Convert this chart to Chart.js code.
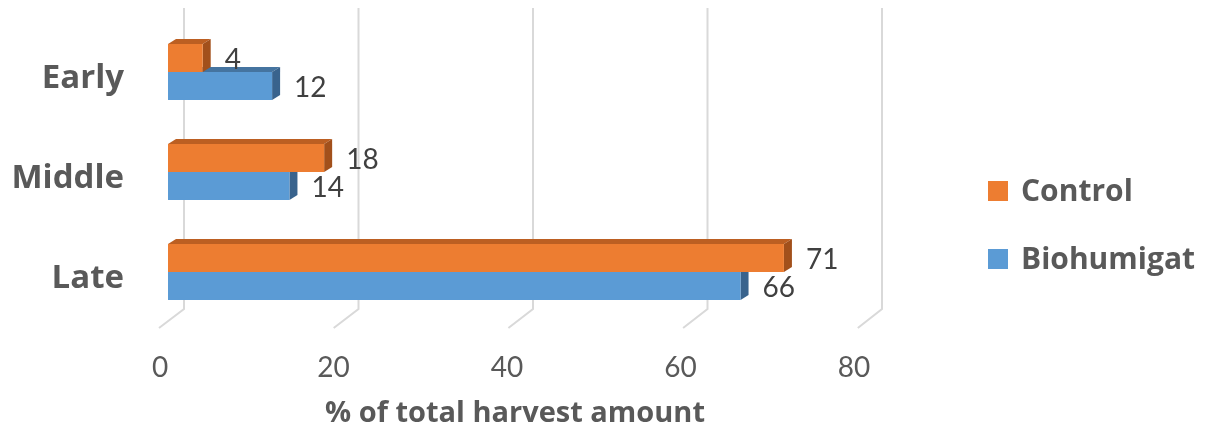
<!DOCTYPE html>
<html>
<head>
<meta charset="utf-8">
<script src="https://cdn.jsdelivr.net/npm/chart.js@4/dist/chart.umd.min.js"></script>
<style>
  html, body { margin: 0; padding: 0; background: #fff; }
  #wrap { width: 1218px; height: 434px; position: relative; }
</style>
</head>
<body>
<div id="wrap"><canvas id="harvestChart"></canvas></div>
<script>
const categories = ['Early', 'Middle', 'Late'];
const controlValues = [4, 18, 71];
const biohumigatValues = [12, 14, 66];
const xTicks = [0, 20, 40, 60, 80];

const FONT = 'Lato, "Open Sans", sans-serif';
const BOLD_FONT = '"Open Sans", Lato, sans-serif';
const TEXT_GREY = '#595959';

// darker shades for the fake 3D faces
const shades = {
  '#ED7D31': { top: '#BC5F22', side: '#A2501B' },
  '#5B9BD5': { top: '#4574A0', side: '#39638D' }
};

// back wall + floor gridlines, then top/side faces of the bars
const depthPlugin = {
  id: 'depth',
  beforeDatasetsDraw(chart) {
    const { ctx, chartArea, scales } = chart;
    ctx.save();
    ctx.strokeStyle = '#D9D9D9';
    ctx.lineWidth = 2;
    xTicks.forEach(v => {
      const px = scales.x.getPixelForValue(v);
      const back = px + 16 + v * 0.05;
      const front = px - 9 + v * 0.06;
      ctx.beginPath();
      ctx.moveTo(back, chartArea.top - 14);
      ctx.lineTo(back, chartArea.bottom - 13);
      ctx.lineTo(front, chartArea.bottom + 6);
      ctx.stroke();
    });

    const dx = 8, dy = 5;
    for (let i = chart.data.datasets.length - 1; i >= 0; i--) {
      const ds = chart.data.datasets[i];
      const sh = shades[ds.backgroundColor];
      chart.getDatasetMeta(i).data.forEach(bar => {
        const top = bar.y - bar.height / 2;
        const bottom = bar.y + bar.height / 2;
        ctx.fillStyle = sh.top;
        ctx.beginPath();
        ctx.moveTo(bar.base, top);
        ctx.lineTo(bar.base + dx, top - dy);
        ctx.lineTo(bar.x + dx, top - dy);
        ctx.lineTo(bar.x, top);
        ctx.closePath();
        ctx.fill();
        ctx.fillStyle = sh.side;
        ctx.beginPath();
        ctx.moveTo(bar.x, top);
        ctx.lineTo(bar.x + dx, top - dy);
        ctx.lineTo(bar.x + dx, bottom - dy);
        ctx.lineTo(bar.x, bottom);
        ctx.closePath();
        ctx.fill();
      });
    }
    ctx.restore();
  },
  afterDatasetsDraw(chart) {
    const { ctx } = chart;
    ctx.save();
    ctx.font = '28px ' + FONT;
    ctx.fillStyle = '#404040';
    ctx.textAlign = 'left';
    ctx.textBaseline = 'middle';
    chart.data.datasets.forEach((ds, i) => {
      chart.getDatasetMeta(i).data.forEach((bar, j) => {
        ctx.fillText(ds.data[j], bar.x + 22, bar.y + 2);
      });
    });
    ctx.restore();
  }
};

// legend on the right, drawn by hand so it can sit away from the plot
const sideLegend = {
  id: 'sideLegend',
  afterDraw(chart) {
    const { ctx, chartArea } = chart;
    const x = chartArea.right + 126;
    const midY = chart.height / 2 + 8;
    ctx.save();
    ctx.font = 'bold 30px ' + BOLD_FONT;
    ctx.textBaseline = 'middle';
    ctx.textAlign = 'left';
    chart.data.datasets.forEach((ds, i) => {
      const cy = midY + (i - 0.5) * 68;
      ctx.fillStyle = ds.backgroundColor;
      ctx.fillRect(x, cy - 10, 20, 20);
      ctx.fillStyle = TEXT_GREY;
      ctx.fillText(ds.label, x + 33, cy + 1);
    });
    ctx.restore();
  }
};

new Chart(document.getElementById('harvestChart'), {
  type: 'bar',
  data: {
    labels: categories,
    datasets: [
      { label: 'Control', data: controlValues, backgroundColor: '#ED7D31', borderWidth: 0 },
      { label: 'Biohumigat', data: biohumigatValues, backgroundColor: '#5B9BD5', borderWidth: 0 }
    ]
  },
  options: {
    indexAxis: 'y',
    responsive: true,
    maintainAspectRatio: false,
    animation: false,
    layout: { padding: { left: 0, right: 356, top: 22, bottom: 0 } },
    datasets: { bar: { barPercentage: 1, categoryPercentage: 0.56 } },
    plugins: {
      legend: { display: false },
      tooltip: { enabled: false }
    },
    scales: {
      x: {
        min: 0,
        max: 80,
        afterFit: s => { s.height = 112; s.paddingLeft = 0; s.paddingRight = 0; },
        afterBuildTicks: s => { s.ticks = xTicks.map(v => ({ value: v })); },
        grid: { display: false, drawTicks: false },
        border: { display: false },
        ticks: { font: { family: FONT, size: 28 }, color: TEXT_GREY, padding: 29, labelOffset: -8 },
        title: {
          display: true,
          text: '% of total harvest amount',
          font: { family: BOLD_FONT, size: 29, weight: 'bold' },
          color: TEXT_GREY,
          padding: { top: 0, bottom: 3 }
        }
      },
      y: {
        afterFit: s => { s.width = 168; s.paddingTop = 0; s.paddingBottom = 0; },
        grid: { display: false, drawTicks: false },
        border: { display: false },
        ticks: { font: { family: BOLD_FONT, size: 33, weight: 'bold' }, color: TEXT_GREY, padding: 44, labelOffset: 7 }
      }
    }
  },
  plugins: [depthPlugin, sideLegend]
});
</script>
</body>
</html>
